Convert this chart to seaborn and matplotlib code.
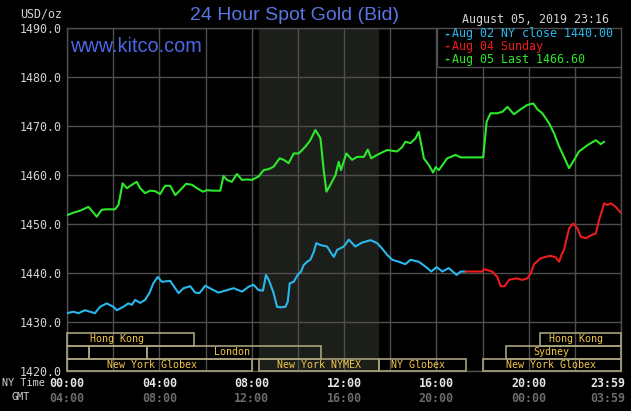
import matplotlib
matplotlib.use("Agg")
import matplotlib.pyplot as plt
import matplotlib.transforms as mtransforms
from matplotlib.patches import Rectangle
import pandas as pd
import seaborn as sns

# ---------------- data ----------------
hours_aug02 = [0.0, 0.27, 0.49, 0.78, 1.21, 1.43, 1.72, 2.01, 2.16, 2.44, 2.66, 2.81, 2.95, 3.17, 3.38,
               3.57, 3.74, 3.93, 4.11, 4.47, 4.83, 5.05, 5.34, 5.55, 5.74, 5.99, 6.35, 6.56, 6.93, 7.22,
               7.58, 7.87, 8.08, 8.3, 8.49, 8.62, 8.74, 8.95, 9.1, 9.24, 9.46, 9.56, 9.65, 9.82, 9.99,
               10.14, 10.25, 10.4, 10.54, 10.69, 10.8, 10.98, 11.27, 11.41, 11.56, 11.7, 11.99, 12.21,
               12.49, 12.78, 13.15, 13.43, 13.65, 13.87, 14.09, 14.37, 14.66, 14.88, 15.24, 15.53, 15.78,
               16.01, 16.26, 16.54, 16.88, 17.05, 17.27]
price_aug02 = [1431.8, 1432.1, 1431.8, 1432.4, 1431.8, 1433.1, 1433.8, 1433.1, 1432.4, 1433.1, 1433.8,
               1433.5, 1434.5, 1433.9, 1434.5, 1435.9, 1437.9, 1439.2, 1438.2, 1438.4, 1435.9, 1436.9,
               1437.3, 1436.0, 1435.9, 1437.4, 1436.5, 1436.0, 1436.5, 1436.9, 1436.2, 1437.2, 1437.6,
               1436.5, 1436.4, 1439.6, 1438.6, 1435.9, 1433.1, 1433.0, 1433.1, 1434.1, 1437.9, 1438.2,
               1439.6, 1440.3, 1441.6, 1442.3, 1442.7, 1444.3, 1446.1, 1445.7, 1445.4, 1444.3, 1443.3,
               1444.7, 1445.4, 1446.8, 1445.4, 1446.2, 1446.7, 1446.1, 1445.0, 1443.7, 1442.7, 1442.3,
               1441.8, 1442.7, 1442.3, 1441.3, 1440.3, 1441.2, 1440.3, 1441.0, 1439.6, 1440.3, 1440.3]

hours_aug04 = [17.27, 17.99, 18.06, 18.42, 18.64, 18.79, 18.96, 19.15, 19.44, 19.73, 19.94, 20.09, 20.23,
               20.52, 20.74, 20.95, 21.17, 21.32, 21.42, 21.53, 21.75, 21.93, 22.11, 22.26, 22.47, 22.76,
               22.91, 23.05, 23.27, 23.41, 23.56, 23.77, 23.99]
price_aug04 = [1440.3, 1440.3, 1440.8, 1440.3, 1439.2, 1437.3, 1437.3, 1438.6, 1438.9, 1438.6, 1438.9,
               1439.9, 1441.8, 1443.0, 1443.3, 1443.5, 1443.2, 1442.3, 1443.7, 1444.7, 1449.1, 1450.1,
               1449.1, 1447.4, 1447.1, 1447.8, 1448.1, 1450.8, 1454.2, 1453.9, 1454.2, 1453.5, 1452.3]

hours_aug05 = [0.0, 0.27, 0.56, 0.93, 1.29, 1.5, 1.72, 2.08, 2.23, 2.41, 2.59, 2.81, 3.02, 3.17, 3.38, 3.6,
               3.82, 4.03, 4.25, 4.47, 4.69, 4.9, 5.16, 5.41, 5.63, 5.89, 6.06, 6.35, 6.64, 6.78, 6.93,
               7.14, 7.36, 7.58, 7.8, 8.01, 8.3, 8.52, 8.74, 8.95, 9.21, 9.39, 9.6, 9.82, 10.04, 10.33,
               10.54, 10.76, 10.98, 11.12, 11.24, 11.41, 11.63, 11.77, 11.87, 12.1, 12.35, 12.57, 12.86,
               13.03, 13.18, 13.43, 13.87, 14.3, 14.52, 14.66, 14.88, 15.1, 15.24, 15.31, 15.46, 15.68,
               15.86, 15.97, 16.11, 16.47, 16.83, 17.05, 18.03, 18.18, 18.35, 18.64, 18.86, 19.08, 19.36,
               19.65, 19.94, 20.2, 20.38, 20.59, 20.88, 21.1, 21.32, 21.53, 21.75, 21.97, 22.18, 22.55,
               22.91, 23.12, 23.27]
price_aug05 = [1451.8, 1452.3, 1452.7, 1453.5, 1451.5, 1452.9, 1453.0, 1453.0, 1453.9, 1458.3, 1457.3,
               1458.0, 1458.6, 1457.3, 1456.3, 1456.8, 1456.7, 1456.1, 1457.8, 1457.8, 1455.9, 1456.9,
               1458.2, 1458.0, 1457.3, 1456.6, 1456.9, 1456.8, 1456.8, 1459.8, 1459.0, 1458.6, 1460.2,
               1459.0, 1459.1, 1459.0, 1459.7, 1461.0, 1461.2, 1461.7, 1463.4, 1463.1, 1462.4, 1464.4,
               1464.4, 1465.8, 1467.1, 1469.2, 1467.5, 1461.0, 1456.6, 1458.0, 1460.0, 1462.7, 1461.0,
               1464.4, 1463.1, 1463.7, 1463.7, 1465.2, 1463.4, 1464.1, 1465.1, 1464.8, 1465.7, 1466.8,
               1466.5, 1467.5, 1468.8, 1467.1, 1463.4, 1462.0, 1460.5, 1461.6, 1461.0, 1463.4, 1464.1,
               1463.6, 1463.6, 1470.9, 1472.6, 1472.6, 1472.9, 1473.9, 1472.4, 1473.4, 1474.3, 1474.6,
               1473.4, 1472.6, 1470.6, 1468.5, 1465.8, 1463.7, 1461.4, 1463.1, 1464.8, 1466.1, 1467.1,
               1466.3, 1466.8]

series_labels = ["Aug 02 NY close 1440.00", "Aug 04 Sunday", "Aug 05 Last 1466.60"]
series_colors = ["#2ab8ec", "#ee1c1c", "#2ee82a"]

y_ticks = [1420, 1430, 1440, 1450, 1460, 1470, 1480, 1490]
y_tick_labels = ["1420.0", "1430.0", "1440.0", "1450.0", "1460.0", "1470.0", "1480.0", "1490.0"]
x_tick_hours = [0, 4, 8, 12, 16, 20, 24]
ny_time_labels = ["00:00", "04:00", "08:00", "12:00", "16:00", "20:00", "23:59"]
gmt_labels = ["04:00", "08:00", "12:00", "16:00", "20:00", "00:00", "03:59"]

nymex_span = (8.3, 13.5)

# sessions: label, start hour, end hour, row (0 = bottom), label centre hour
session_names = ["Hong Kong", "", "", "London", "New York Globex", "New York NYMEX", "NY Globex",
                 "New York Globex", "Sydney", "Hong Kong"]
session_start = [0.0, 0.0, 0.97, 3.48, 0.0, 8.3, 13.5, 18.0, 19.0, 20.5]
session_end = [5.5, 0.97, 3.48, 11.0, 8.03, 13.5, 17.3, 24.0, 24.0, 24.0]
session_row = [2, 1, 1, 1, 0, 0, 0, 0, 1, 2]
session_label_x = [2.15, 0, 0, 7.15, 3.67, 10.9, 15.2, 20.96, 20.98, 22.05]

# ---------------- style ----------------
sns.set_style("dark")
mono = "DejaVu Sans Mono"
plt.rcParams["font.family"] = ["DejaVu Sans"]

W, H = 631, 411
fig = plt.figure(figsize=(W / 100, H / 100), dpi=100, facecolor="black")
ax_l, ax_r, ax_t, ax_b = 67, 621, 28, 371
ax = fig.add_axes([ax_l / W, 1 - ax_b / H, (ax_r - ax_l) / W, (ax_b - ax_t) / H])
ax.set_facecolor("black")

ax.axvspan(*nymex_span, color="#1c1e1a", zorder=0, lw=0)

frames = [
    pd.DataFrame({"hour": hours_aug02, "price": price_aug02}),
    pd.DataFrame({"hour": hours_aug04, "price": price_aug04}),
    pd.DataFrame({"hour": hours_aug05, "price": price_aug05}),
]
for df, c in zip(frames, series_colors):
    sns.lineplot(data=df, x="hour", y="price", ax=ax, color=c, lw=1.5,
                 estimator=None, sort=False, zorder=5)

ax.set_xlim(0, 24)
ax.set_ylim(1420, 1490)
ax.set_xlabel("")
ax.set_ylabel("")
ax.set_xticks(range(0, 25, 2))
ax.set_xticklabels([])
ax.set_yticks(y_ticks)
ax.set_yticklabels(y_tick_labels, fontfamily=mono, fontsize=8.4, color="#d4d4d4")
ax.tick_params(axis="both", length=0, pad=4)
ax.grid(True, color="#4e4e4e", lw=1.0, zorder=1)
ax.set_axisbelow(True)
for s in ax.spines.values():
    s.set_color("#4e4e4e")
    s.set_linewidth(1.0)

# session boxes
row_bounds = [(1420.0, 1422.45), (1422.45, 1425.15), (1425.15, 1427.75)]
for name, s0, s1, r, lx in zip(session_names, session_start, session_end, session_row, session_label_x):
    y0, y1 = row_bounds[r]
    ax.add_patch(Rectangle((s0, y0), s1 - s0, y1 - y0, fill=False, ec="#a8a27c", lw=1.2, zorder=3,
                           clip_on=False))
    if name:
        ax.text(lx, (y0 + y1) / 2, name, ha="center", va="center", fontfamily=mono,
                fontsize=7.2, color="#f2c648", zorder=4)

# legend box
leg_x0 = (437 - ax_l) / (ax_r - ax_l)
leg_y0 = 1 - (67 - ax_t) / (ax_b - ax_t)
ax.add_patch(Rectangle((leg_x0, leg_y0), 1 - leg_x0, 1 - leg_y0, transform=ax.transAxes,
                       fc="black", ec="#4e4e4e", lw=1.0, zorder=6))
for i, (lab, c) in enumerate(zip(series_labels, series_colors)):
    ypix = 34 + i * 12.5
    fig.text(443 / W, 1 - ypix / H, "-", color=c, fontfamily=mono, fontsize=8.4,
             fontweight="bold", va="center", ha="left", zorder=7)
    fig.text(452 / W, 1 - ypix / H, lab, color=c, fontfamily=mono, fontsize=8.4,
             va="center", ha="left", zorder=7)

# x labels
trans = mtransforms.blended_transform_factory(ax.transData, fig.transFigure)
for h, ny, gm in zip(x_tick_hours, ny_time_labels, gmt_labels):
    xx = h if h < 24 else 24.2
    ha = "center" if h < 24 else "right"
    ax.text(xx, 1 - 383 / H, ny, transform=trans, ha=ha, va="center", fontfamily=mono,
            fontsize=8.4, fontweight="bold", color="#e6e6e6")
    ax.text(xx, 1 - 398 / H, gm, transform=trans, ha=ha, va="center", fontfamily=mono,
            fontsize=8.4, fontweight="bold", color="#6c6c6c")
fig.text(2 / W, 1 - 383 / H, "NY Time", fontfamily=mono, fontsize=7.3, color="#d4d4d4",
         va="center", ha="left")
fig.text(11 / W, 1 - 397 / H, "GMT", fontfamily=mono, fontsize=7.3, color="#d4d4d4",
         va="center", ha="left")

# header texts
fig.text(41 / W, 1 - 14 / H, "USD/oz", fontfamily=mono, fontsize=8.4, color="#d4d4d4",
         va="center", ha="center")
fig.text(295 / W, 1 - 16 / H, "24 Hour Spot Gold (Bid)", fontfamily="Liberation Sans",
         fontsize=14, color="#5876e4", va="center", ha="center")
fig.text(536 / W, 1 - 20 / H, "August 05, 2019 23:16", fontfamily=mono, fontsize=8.4,
         color="#d4d4d4", va="center", ha="center")
ax.text(70 / W, 1 - 47 / H, "www.kitco.com", transform=fig.transFigure,
        fontfamily="Liberation Sans", fontsize=14.3, color="#4a68e6", va="center", ha="left",
        zorder=8)

fig.savefig("out.png", dpi=100, facecolor="black")
